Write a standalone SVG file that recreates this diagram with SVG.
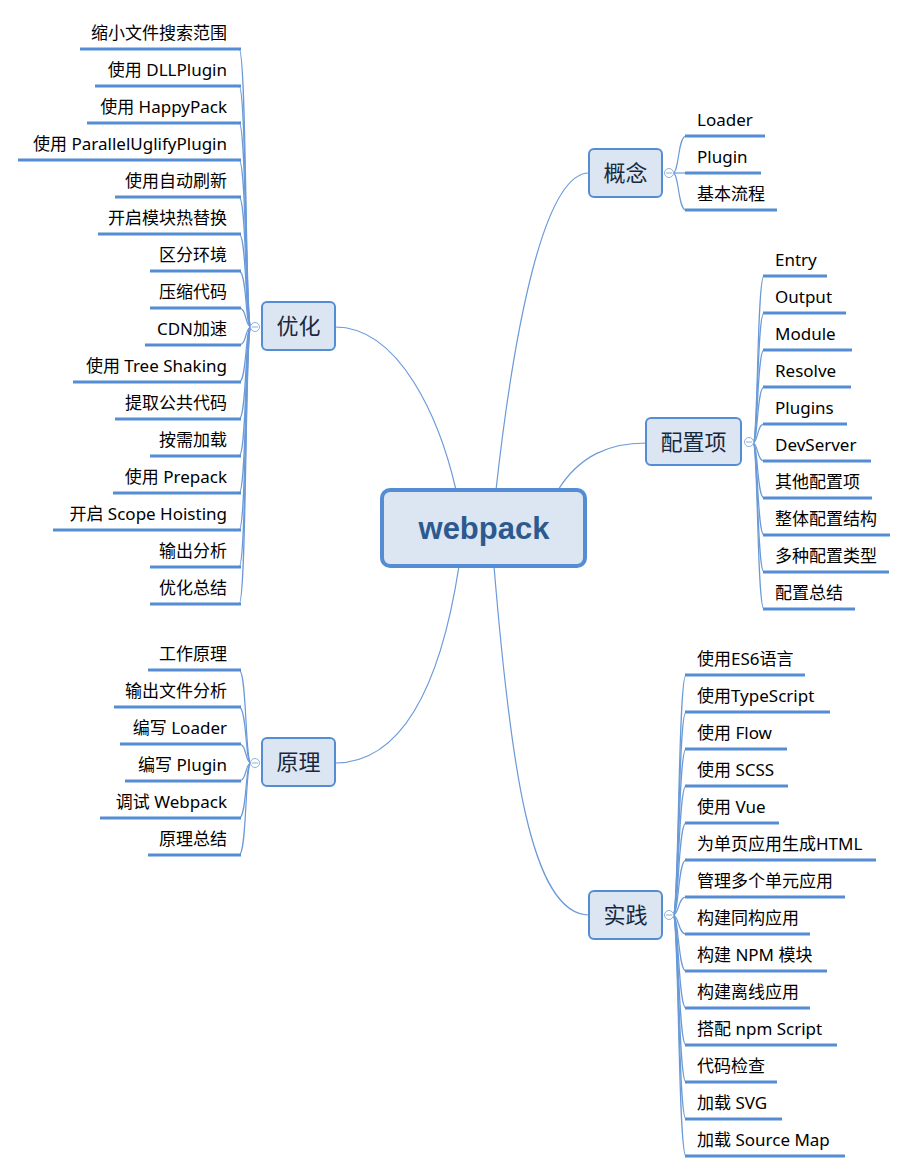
<svg xmlns="http://www.w3.org/2000/svg" width="907" height="1173" viewBox="0 0 907 1173">
<style>
.bg{fill:#ffffff}
.main{fill:#dce6f2;stroke:#548dd4;stroke-width:4}
.mt{font-family:"Liberation Sans",Arial,sans-serif;font-weight:bold;font-size:31px;fill:#2c5a8f}
.br{fill:#dce6f2;stroke:#548dd4;stroke-width:2}
.bt{font-family:"Noto Sans","Noto Sans CJK SC",sans-serif;font-size:22px;fill:#17293f}
.lt{font-family:"Noto Sans","Noto Sans CJK SC",sans-serif;font-size:17px;fill:#000}
.ul{stroke:#548dd4;stroke-width:3;fill:none}
.c{stroke:#6a9ad8;stroke-width:1.2;fill:none}
.lc{stroke:#6a9ad8;stroke-width:1.2;fill:none}
.fold{fill:#fff;stroke:#8fb0dc;stroke-width:1}
.foldm{stroke:#8fb0dc;stroke-width:1}
.e{text-anchor:end}
</style>
<rect class="bg" x="0" y="0" width="907" height="1173"/>
<g id="connectors">
<path class="c" d="M496 490 C515 320 545 173 589 173"/>
<path class="c" d="M558 490 C580 455 610 443 646 443"/>
<path class="c" d="M456 490 C440 420 400 327 335 327"/>
<path class="c" d="M459 566 C440 690 400 763 335 763"/>
<path class="c" d="M494 566 C510 760 530 915 589 915"/>
<!-- 概念 leaves -->
<path class="lc" d="M673 173 C679 173 678 136 686 136"/>
<path class="lc" d="M673 173 L686 173"/>
<path class="lc" d="M673 173 C679 173 678 210 686 210"/>
<!-- 配置项 leaves -->
<path class="lc" d="M753 443 C758 443 757 276 764 276"/>
<path class="lc" d="M753 443 C758 443 757 313 764 313"/>
<path class="lc" d="M753 443 C758 443 757 350 764 350"/>
<path class="lc" d="M753 443 C758 443 757 387 764 387"/>
<path class="lc" d="M753 443 C758 443 757 424 764 424"/>
<path class="lc" d="M753 443 C758 443 757 461 764 461"/>
<path class="lc" d="M753 443 C758 443 757 498 764 498"/>
<path class="lc" d="M753 443 C758 443 757 535 764 535"/>
<path class="lc" d="M753 443 C758 443 757 572 764 572"/>
<path class="lc" d="M753 443 C758 443 757 609 764 609"/>
<!-- 实践 leaves -->
<path class="lc" d="M673 915 C679 915 678 675 686 675"/>
<path class="lc" d="M673 915 C679 915 678 712 686 712"/>
<path class="lc" d="M673 915 C679 915 678 749 686 749"/>
<path class="lc" d="M673 915 C679 915 678 786 686 786"/>
<path class="lc" d="M673 915 C679 915 678 823 686 823"/>
<path class="lc" d="M673 915 C679 915 678 860 686 860"/>
<path class="lc" d="M673 915 C679 915 678 897 686 897"/>
<path class="lc" d="M673 915 C679 915 678 934 686 934"/>
<path class="lc" d="M673 915 C679 915 678 971 686 971"/>
<path class="lc" d="M673 915 C679 915 678 1008 686 1008"/>
<path class="lc" d="M673 915 C679 915 678 1045 686 1045"/>
<path class="lc" d="M673 915 C679 915 678 1082 686 1082"/>
<path class="lc" d="M673 915 C679 915 678 1119 686 1119"/>
<path class="lc" d="M673 915 C679 915 678 1156 686 1156"/>
<!-- 优化 leaves -->
<path class="lc" d="M251 327 C245 327 247 49 239 49"/>
<path class="lc" d="M251 327 C245 327 247 86 239 86"/>
<path class="lc" d="M251 327 C245 327 247 123 239 123"/>
<path class="lc" d="M251 327 C245 327 247 160 239 160"/>
<path class="lc" d="M251 327 C245 327 247 197 239 197"/>
<path class="lc" d="M251 327 C245 327 247 234 239 234"/>
<path class="lc" d="M251 327 C245 327 247 271 239 271"/>
<path class="lc" d="M251 327 C245 327 247 308 239 308"/>
<path class="lc" d="M251 327 C245 327 247 345 239 345"/>
<path class="lc" d="M251 327 C245 327 247 382 239 382"/>
<path class="lc" d="M251 327 C245 327 247 419 239 419"/>
<path class="lc" d="M251 327 C245 327 247 456 239 456"/>
<path class="lc" d="M251 327 C245 327 247 493 239 493"/>
<path class="lc" d="M251 327 C245 327 247 530 239 530"/>
<path class="lc" d="M251 327 C245 327 247 567 239 567"/>
<path class="lc" d="M251 327 C245 327 247 604 239 604"/>
<!-- 原理 leaves -->
<path class="lc" d="M251 763 C245 763 247 670 239 670"/>
<path class="lc" d="M251 763 C245 763 247 707 239 707"/>
<path class="lc" d="M251 763 C245 763 247 744 239 744"/>
<path class="lc" d="M251 763 C245 763 247 781 239 781"/>
<path class="lc" d="M251 763 C245 763 247 818 239 818"/>
<path class="lc" d="M251 763 C245 763 247 855 239 855"/>
</g>
<g id="webpack">
<rect class="main" x="382" y="490" width="203" height="76" rx="8"/>
<text class="mt" x="484" y="539" text-anchor="middle">webpack</text>
</g>
<g id="gainian">
<rect class="br" x="589" y="149" width="73" height="48" rx="5"/>
<text class="bt" x="625.5" y="181" text-anchor="middle">概念</text>
<circle class="fold" cx="669" cy="173" r="4.5"/><line class="foldm" x1="666" y1="173" x2="672" y2="173"/>
</g>
<g id="peizhixiang">
<rect class="br" x="646" y="418" width="95" height="47" rx="5"/>
<text class="bt" x="693.5" y="450" text-anchor="middle">配置项</text>
<circle class="fold" cx="749" cy="442" r="4.5"/><line class="foldm" x1="746" y1="442" x2="752" y2="442"/>
</g>
<g id="youhua">
<rect class="br" x="262" y="302" width="73" height="48" rx="5"/>
<text class="bt" x="298.5" y="334" text-anchor="middle">优化</text>
<circle class="fold" cx="255" cy="327" r="4.5"/><line class="foldm" x1="252" y1="327" x2="258" y2="327"/>
</g>
<g id="yuanli">
<rect class="br" x="262" y="738" width="73" height="48" rx="5"/>
<text class="bt" x="298.5" y="770" text-anchor="middle">原理</text>
<circle class="fold" cx="255" cy="763" r="4.5"/><line class="foldm" x1="252" y1="763" x2="258" y2="763"/>
</g>
<g id="shijian">
<rect class="br" x="589" y="891" width="73" height="48" rx="5"/>
<text class="bt" x="625.5" y="923" text-anchor="middle">实践</text>
<circle class="fold" cx="669" cy="915" r="4.5"/><line class="foldm" x1="666" y1="915" x2="672" y2="915"/>
</g>
<g id="gainian-leaves">
<g id="g-loader"><line class="ul" x1="685" y1="136" x2="765" y2="136"/><text class="lt" x="697" y="126">Loader</text></g>
<g id="g-plugin"><line class="ul" x1="685" y1="173" x2="761" y2="173"/><text class="lt" x="697" y="163">Plugin</text></g>
<g id="g-flow"><line class="ul" x1="685" y1="210" x2="777" y2="210"/><text class="lt" x="697" y="200">基本流程</text></g>
</g>
<g id="peizhi-leaves">
<g id="p1"><line class="ul" x1="763" y1="276" x2="827" y2="276"/><text class="lt" x="775" y="266">Entry</text></g>
<g id="p2"><line class="ul" x1="763" y1="313" x2="846" y2="313"/><text class="lt" x="775" y="303">Output</text></g>
<g id="p3"><line class="ul" x1="763" y1="350" x2="852" y2="350"/><text class="lt" x="775" y="340">Module</text></g>
<g id="p4"><line class="ul" x1="763" y1="387" x2="851" y2="387"/><text class="lt" x="775" y="377">Resolve</text></g>
<g id="p5"><line class="ul" x1="763" y1="424" x2="847" y2="424"/><text class="lt" x="775" y="414">Plugins</text></g>
<g id="p6"><line class="ul" x1="763" y1="461" x2="871" y2="461"/><text class="lt" x="775" y="451">DevServer</text></g>
<g id="p7"><line class="ul" x1="763" y1="498" x2="872" y2="498"/><text class="lt" x="775" y="488">其他配置项</text></g>
<g id="p8"><line class="ul" x1="763" y1="535" x2="890" y2="535"/><text class="lt" x="775" y="525">整体配置结构</text></g>
<g id="p9"><line class="ul" x1="763" y1="572" x2="889" y2="572"/><text class="lt" x="775" y="562">多种配置类型</text></g>
<g id="p10"><line class="ul" x1="763" y1="609" x2="855" y2="609"/><text class="lt" x="775" y="599">配置总结</text></g>
</g>
<g id="shijian-leaves">
<g id="s1"><line class="ul" x1="685" y1="675" x2="805" y2="675"/><text class="lt" x="697" y="665">使用ES6语言</text></g>
<g id="s2"><line class="ul" x1="685" y1="712" x2="830" y2="712"/><text class="lt" x="697" y="702">使用TypeScript</text></g>
<g id="s3"><line class="ul" x1="685" y1="749" x2="787" y2="749"/><text class="lt" x="697" y="739">使用 Flow</text></g>
<g id="s4"><line class="ul" x1="685" y1="786" x2="788" y2="786"/><text class="lt" x="697" y="776">使用 SCSS</text></g>
<g id="s5"><line class="ul" x1="685" y1="823" x2="779" y2="823"/><text class="lt" x="697" y="813">使用 Vue</text></g>
<g id="s6"><line class="ul" x1="685" y1="860" x2="876" y2="860"/><text class="lt" x="697" y="850">为单页应用生成HTML</text></g>
<g id="s7"><line class="ul" x1="685" y1="897" x2="845" y2="897"/><text class="lt" x="697" y="887">管理多个单元应用</text></g>
<g id="s8"><line class="ul" x1="685" y1="934" x2="810" y2="934"/><text class="lt" x="697" y="924">构建同构应用</text></g>
<g id="s9"><line class="ul" x1="685" y1="971" x2="827" y2="971"/><text class="lt" x="697" y="961">构建 NPM 模块</text></g>
<g id="s10"><line class="ul" x1="685" y1="1008" x2="810" y2="1008"/><text class="lt" x="697" y="998">构建离线应用</text></g>
<g id="s11"><line class="ul" x1="685" y1="1045" x2="837" y2="1045"/><text class="lt" x="697" y="1035">搭配 npm Script</text></g>
<g id="s12"><line class="ul" x1="685" y1="1082" x2="777" y2="1082"/><text class="lt" x="697" y="1072">代码检查</text></g>
<g id="s13"><line class="ul" x1="685" y1="1119" x2="782" y2="1119"/><text class="lt" x="697" y="1109">加载 SVG</text></g>
<g id="s14"><line class="ul" x1="685" y1="1156" x2="845" y2="1156"/><text class="lt" x="697" y="1146">加载 Source Map</text></g>
</g>
<g id="youhua-leaves">
<g id="y1"><line class="ul" x1="80" y1="49" x2="241" y2="49"/><text class="lt e" x="227" y="39">缩小文件搜索范围</text></g>
<g id="y2"><line class="ul" x1="95" y1="86" x2="241" y2="86"/><text class="lt e" x="227" y="76">使用 DLLPlugin</text></g>
<g id="y3"><line class="ul" x1="87" y1="123" x2="241" y2="123"/><text class="lt e" x="227" y="113">使用 HappyPack</text></g>
<g id="y4"><line class="ul" x1="18" y1="160" x2="241" y2="160"/><text class="lt e" x="227" y="150">使用 ParallelUglifyPlugin</text></g>
<g id="y5"><line class="ul" x1="115" y1="197" x2="241" y2="197"/><text class="lt e" x="227" y="187">使用自动刷新</text></g>
<g id="y6"><line class="ul" x1="98" y1="234" x2="241" y2="234"/><text class="lt e" x="227" y="224">开启模块热替换</text></g>
<g id="y7"><line class="ul" x1="150" y1="271" x2="241" y2="271"/><text class="lt e" x="227" y="261">区分环境</text></g>
<g id="y8"><line class="ul" x1="150" y1="308" x2="241" y2="308"/><text class="lt e" x="227" y="298">压缩代码</text></g>
<g id="y9"><line class="ul" x1="145" y1="345" x2="241" y2="345"/><text class="lt e" x="227" y="335">CDN加速</text></g>
<g id="y10"><line class="ul" x1="73" y1="382" x2="241" y2="382"/><text class="lt e" x="227" y="372">使用 Tree Shaking</text></g>
<g id="y11"><line class="ul" x1="115" y1="419" x2="241" y2="419"/><text class="lt e" x="227" y="409">提取公共代码</text></g>
<g id="y12"><line class="ul" x1="150" y1="456" x2="241" y2="456"/><text class="lt e" x="227" y="446">按需加载</text></g>
<g id="y13"><line class="ul" x1="113" y1="493" x2="241" y2="493"/><text class="lt e" x="227" y="483">使用 Prepack</text></g>
<g id="y14"><line class="ul" x1="53" y1="530" x2="241" y2="530"/><text class="lt e" x="227" y="520">开启 Scope Hoisting</text></g>
<g id="y15"><line class="ul" x1="150" y1="567" x2="241" y2="567"/><text class="lt e" x="227" y="557">输出分析</text></g>
<g id="y16"><line class="ul" x1="150" y1="604" x2="241" y2="604"/><text class="lt e" x="227" y="594">优化总结</text></g>
</g>
<g id="yuanli-leaves">
<g id="r1"><line class="ul" x1="148" y1="670" x2="241" y2="670"/><text class="lt e" x="227" y="660">工作原理</text></g>
<g id="r2"><line class="ul" x1="114" y1="707" x2="241" y2="707"/><text class="lt e" x="227" y="697">输出文件分析</text></g>
<g id="r3"><line class="ul" x1="120" y1="744" x2="241" y2="744"/><text class="lt e" x="227" y="734">编写 Loader</text></g>
<g id="r4"><line class="ul" x1="125" y1="781" x2="241" y2="781"/><text class="lt e" x="227" y="771">编写 Plugin</text></g>
<g id="r5"><line class="ul" x1="100" y1="818" x2="241" y2="818"/><text class="lt e" x="227" y="808">调试 Webpack</text></g>
<g id="r6"><line class="ul" x1="148" y1="855" x2="241" y2="855"/><text class="lt e" x="227" y="845">原理总结</text></g>
</g>
</svg>
